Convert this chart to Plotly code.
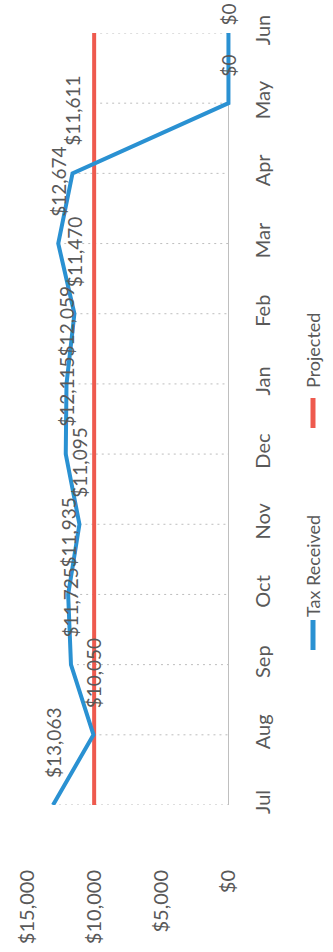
import plotly.graph_objects as go

# Monthly tax collections vs. projection (fiscal year Jul-Jun)
months = ["Jul", "Aug", "Sep", "Oct", "Nov", "Dec", "Jan", "Feb", "Mar", "Apr", "May", "Jun"]
tax_received = [13063, 10050, 11725, 11935, 11095, 12115, 12059, 11470, 12674, 11611, 0, 0]
projected = [10000] * 12
value_ticks = [15000, 10000, 5000, 0]
value_tick_labels = ["$15,000", "$10,000", "$5,000", "$0"]

W, H = 333, 952
ML, MR, MT, MB = 27, 102, 33, 147
FONT = "Lato"
GRAY = "#595959"
BLUE = "#2A91D2"
RED = "#EE5A4E"

plot_w = W - ML - MR
plot_h = H - MT - MB


def px_x(px):
    return (px - ML) / plot_w


def px_y(py):
    return (H - MB - py) / plot_h


# drop lines: from the higher of the two series down to the $0 axis
drop_x, drop_y = [], []
for m, t, p in zip(months, tax_received, projected):
    drop_x += [max(t, p), 0, None]
    drop_y += [m, m, None]

fig = go.Figure()
fig.add_trace(go.Scatter(x=drop_x, y=drop_y, mode="lines", name="drop lines",
                         line=dict(color="#BDBDBD", width=1, dash="2px,4px"),
                         hoverinfo="skip"))
fig.add_trace(go.Scatter(x=projected, y=months, mode="lines", name="Projected",
                         line=dict(color=RED, width=4)))
fig.add_trace(go.Scatter(x=tax_received, y=months, mode="lines", name="Tax Received",
                         line=dict(color=BLUE, width=4)))

# value labels, written sideways beside each point
annotations = []
for i, (m, v) in enumerate(zip(months, tax_received)):
    shift = 25 if i < len(months) - 1 else 6
    annotations.append(dict(
        x=v, y=m, xref="x", yref="y", text=f"${v:,}", showarrow=False,
        textangle=-90, xanchor="center", yanchor="bottom", yshift=shift,
        font=dict(family=FONT, size=19, color=GRAY)))

# sideways legend
legend_items = [("Tax Received", BLUE, 566, (620, 650)), ("Projected", RED, 351, (398, 428))]
shapes = []
for label, color, text_mid, (y0, y1) in legend_items:
    annotations.append(dict(
        x=px_x(313), y=px_y(text_mid), xref="paper", yref="paper", text=label,
        showarrow=False, textangle=-90, xanchor="center", yanchor="middle",
        font=dict(family=FONT, size=18, color=GRAY)))
    shapes.append(dict(type="line", xref="paper", yref="paper",
                       x0=px_x(313), x1=px_x(313), y0=px_y(y0), y1=px_y(y1),
                       line=dict(color=color, width=5)))

fig.update_layout(
    width=W, height=H,
    margin=dict(l=ML, r=MR, t=MT, b=MB, pad=0),
    paper_bgcolor="white", plot_bgcolor="white",
    showlegend=False,
    font=dict(family=FONT, color=GRAY),
    annotations=annotations,
    shapes=shapes,
    xaxis=dict(
        range=[15000, -190], tickvals=value_ticks, ticktext=value_tick_labels,
        tickangle=-90, ticks="outside", ticklen=56, tickcolor="rgba(0,0,0,0)",
        tickfont=dict(family=FONT, size=20, color=GRAY),
        showgrid=False, showline=False,
        zeroline=True, zerolinecolor="#BFBFBF", zerolinewidth=1,
        automargin=False, fixedrange=True),
    yaxis=dict(
        type="category", categoryarray=months, range=[0, 11], side="right",
        tickangle=-90, ticks="outside", ticklen=14, tickcolor="rgba(0,0,0,0)",
        tickfont=dict(family=FONT, size=20, color=GRAY),
        showgrid=False, showline=False, zeroline=False,
        automargin=False, fixedrange=True),
)

fig.write_html("out.html")
